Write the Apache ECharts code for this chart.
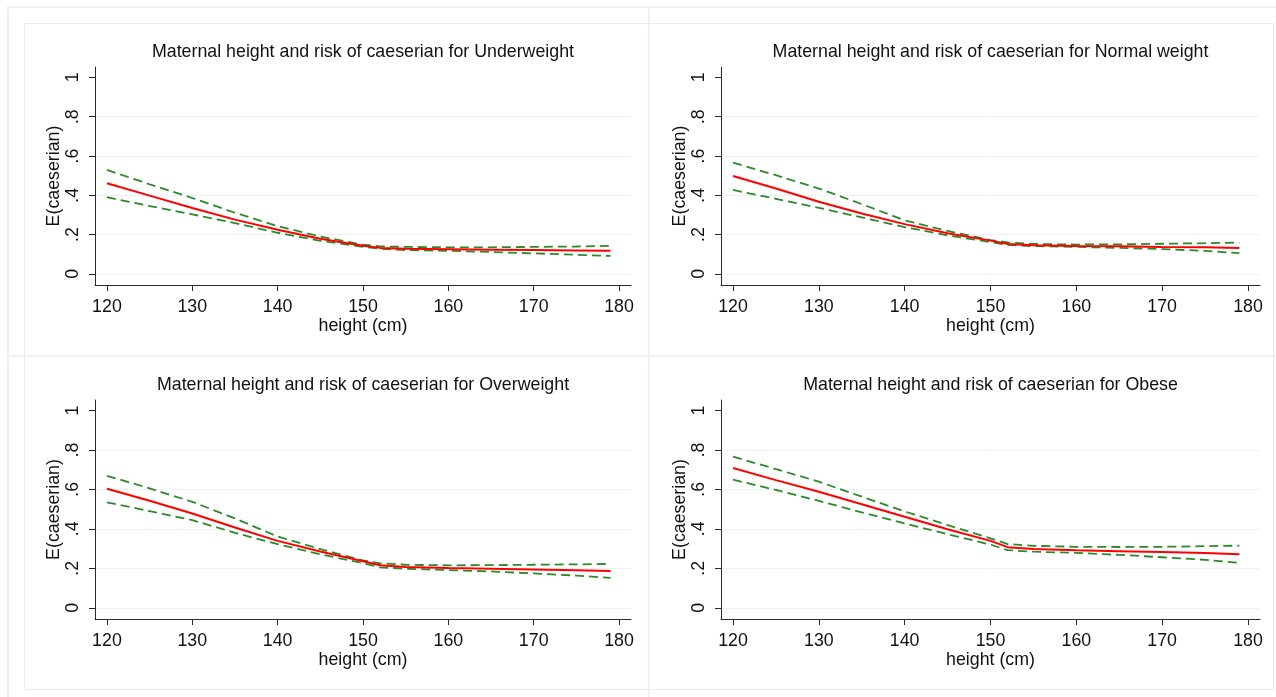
<!DOCTYPE html>
<html>
<head>
<meta charset="utf-8">
<script src="https://cdn.jsdelivr.net/npm/echarts@6/dist/echarts.min.js"></script>
<style>
  html, body { margin: 0; padding: 0; background: #fff; }
  #wrap { position: relative; width: 1276px; height: 697px; overflow: hidden; }
  #chart { position: absolute; left: 0; top: 0; width: 1276px; height: 697px; }
  .ln { position: absolute; background: #edf2f2; }
  .frame { position: absolute; border: 1px solid #e8eeee; }
</style>
</head>
<body>
<div id="wrap">
  <!-- page frame: outer L plus the cross between the four panels -->
  <div class="ln" style="left:7px;top:6px;width:1276px;height:2px"></div>
  <div class="ln" style="left:7px;top:6px;width:2px;height:697px"></div>
  <div class="ln" style="left:648px;top:6px;width:2px;height:697px"></div>
  <div class="ln" style="left:7px;top:355px;width:1276px;height:2px"></div>
  <div class="frame" style="left:24px;top:23px;width:1248px;height:665px"></div>
  <div id="chart"></div>
</div>
<script>
// values
const heights = [120, 125, 130, 135, 140, 145, 150, 152, 155, 160, 165, 170, 175, 179]

const titles = [
    'Maternal height and risk of caeserian for Underweight',
    'Maternal height and risk of caeserian for Normal weight',
    'Maternal height and risk of caeserian for Overweight',
    'Maternal height and risk of caeserian for Obese'
]

const underFit = [.461, .398, .335, .276, .224, .178, .143, .132, .127, .125, .123, .121, .119, .117]
const underHi  = [.529, .456, .386, .311, .243, .190, .148, .140, .137, .135, .135, .137, .139, .142]
const underLo  = [.390, .345, .303, .258, .209, .168, .137, .128, .121, .117, .111, .104, .097, .091]

const normalFit = [.498, .434, .367, .307, .253, .206, .169, .152, .146, .142, .140, .137, .135, .132]
const normalHi  = [.566, .502, .434, .355, .272, .218, .172, .160, .152, .149, .150, .153, .156, .159]
const normalLo  = [.427, .382, .336, .287, .238, .196, .161, .147, .141, .137, .132, .126, .117, .105]

const overFit = [.603, .542, .478, .407, .339, .285, .236, .215, .207, .202, .198, .194, .190, .186]
const overHi  = [.669, .605, .537, .453, .361, .297, .240, .225, .218, .215, .216, .218, .220, .222]
const overLo  = [.534, .490, .444, .380, .322, .271, .226, .205, .198, .191, .184, .174, .163, .151]

const obeseFit = [.708, .647, .588, .525, .461, .398, .339, .307, .298, .292, .287, .282, .277, .271]
const obeseHi  = [.766, .703, .639, .563, .488, .419, .352, .323, .314, .309, .308, .309, .312, .315]
const obeseLo  = [.649, .597, .542, .483, .427, .373, .320, .292, .284, .278, .268, .256, .243, .227]

const xTicks = [120, 130, 140, 150, 160, 170, 180]
const yTicks = [0, 0.2, 0.4, 0.6, 0.8, 1]

const panels = [
    {fit: underFit, hi: underHi, lo: underLo},
    {fit: normalFit, hi: normalHi, lo: normalLo},
    {fit: overFit, hi: overHi, lo: overLo},
    {fit: obeseFit, hi: obeseHi, lo: obeseLo}
]

// plot boxes (axis line extents) for the 2x2 layout
const boxes = [
    {left: 95, top: 67, width: 536, height: 218},
    {left: 721, top: 67, width: 539, height: 218},
    {left: 95, top: 400, width: 536, height: 219},
    {left: 721, top: 400, width: 539, height: 219}
]

const FONT = 'Liberation Sans, Arial, sans-serif'
const FS = 17.8
const AXIS = '#2b2b2b'
const GREEN = '#2a8a2a'

const fmtY = v => v === 0 ? '0' : v === 1 ? '1' : String(v).replace(/^0/, '')
const pts = arr => heights.map((h, i) => [h, arr[i]])

let chart = echarts.init(document.getElementById('chart'), null, {renderer: 'canvas'})

let option = {
    animation: false,
    textStyle: {fontFamily: FONT},
    title: boxes.map((b, i) => ({
        text: titles[i],
        left: b.left + b.width / 2,
        top: b.top - 24,
        textAlign: 'center',
        padding: 0,
        textStyle: {fontSize: FS, fontWeight: 'normal', color: '#111', fontFamily: FONT}
    })),
    grid: boxes.map(b => ({left: b.left, top: b.top, width: b.width, height: b.height, containLabel: false})),
    xAxis: boxes.map((b, i) => ({
        type: 'value',
        gridIndex: i,
        min: 118.6,
        max: 181.4,
        name: 'height (cm)',
        nameLocation: 'middle',
        nameGap: 31,
        nameTextStyle: {fontSize: FS, color: '#111', fontFamily: FONT},
        axisLine: {show: true, onZero: false, lineStyle: {color: AXIS, width: 1}},
        axisTick: {show: true, length: 6, customValues: xTicks, lineStyle: {color: AXIS}},
        axisLabel: {fontSize: FS, color: '#111', margin: 13, customValues: xTicks, fontFamily: FONT},
        splitLine: {show: false}
    })),
    yAxis: boxes.map((b, i) => ({
        type: 'value',
        gridIndex: i,
        min: -0.057,
        max: 1.053,
        name: 'E(caeserian)',
        nameLocation: 'middle',
        nameGap: 27,
        nameTextStyle: {fontSize: FS, color: '#111', fontFamily: FONT},
        axisLine: {show: true, onZero: false, lineStyle: {color: AXIS, width: 1}},
        axisTick: {show: true, length: 6, customValues: yTicks, lineStyle: {color: AXIS}},
        axisLabel: {fontSize: FS, color: '#111', margin: 13, rotate: 90, customValues: yTicks,
                    formatter: fmtY, fontFamily: FONT},
        splitLine: {show: true, lineStyle: {color: ['#eaf2f3', '#eaf2f3', '#eaf2f3', '#eaf2f3', '#eaf2f3', 'rgba(0,0,0,0)'], width: 1}}
    })),
    series: []
}

panels.forEach((p, i) => {
    option.series.push(
        {name: 'upper', type: 'line', xAxisIndex: i, yAxisIndex: i, data: pts(p.hi), showSymbol: false,
         lineStyle: {color: GREEN, width: 1.8, type: [9, 5]}},
        {name: 'lower', type: 'line', xAxisIndex: i, yAxisIndex: i, data: pts(p.lo), showSymbol: false,
         lineStyle: {color: GREEN, width: 1.8, type: [9, 5]}},
        {name: 'fit', type: 'line', xAxisIndex: i, yAxisIndex: i, data: pts(p.fit), showSymbol: false,
         lineStyle: {color: '#ff0000', width: 2}}
    )
})

chart.setOption(option)
</script>
</body>
</html>
